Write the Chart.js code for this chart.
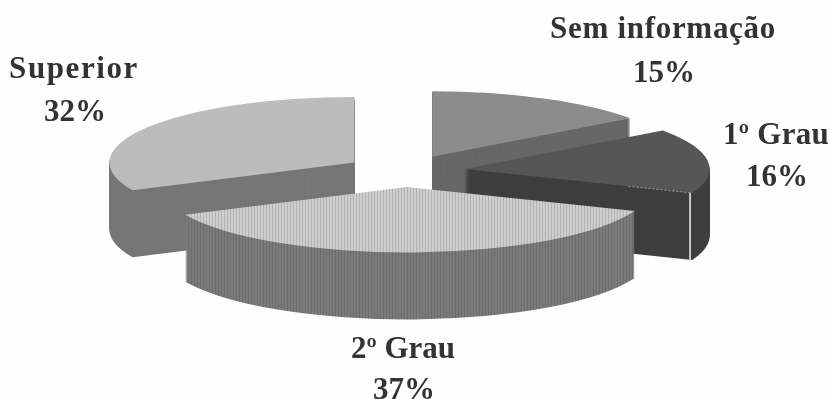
<!DOCTYPE html>
<html>
<head>
<meta charset="utf-8">
<style>
  html, body { margin: 0; padding: 0; background: #fefefe; }
  canvas { display: block; }
</style>
<script src="https://cdn.jsdelivr.net/npm/chart.js@4"></script>
</head>
<body>
<canvas id="pie" width="829" height="399"></canvas>
<script>
// Education level shares, clockwise from twelve o'clock
const categories = ['Sem informação', '1º Grau', '2º Grau', 'Superior'];
const shares = [15, 16, 37, 32];

const topColors = ['#8c8c8c', '#565656', '#c6c6c6', '#bcbcbc'];
const sideColors = ['#676767', '#3e3e3e', '#777777', '#767676'];

// Tilted-pie geometry
const RADIUS = 245;
const TILT = 0.267;
const DEPTH = 67;
const EXPLODE = 60;
// Back slices are painted first so the front ones overlap them
const paintOrder = [0, 3, 1, 2];

// Label anchors: centre, first baseline, line gap and letter tracking
const labelSpots = [
  { x: 663, y: 38, gap: 44, track: 0.7 },
  { x: 776, y: 144, gap: 42, track: 0.3 },
  { x: 403, y: 358, gap: 41, track: 0 },
  { x: 74, y: 78, gap: 43, track: 1.6 }
];

function stripes(ctx, base, line) {
  const tile = document.createElement('canvas');
  tile.width = 3;
  tile.height = 3;
  const t = tile.getContext('2d');
  t.fillStyle = base;
  t.fillRect(0, 0, 3, 3);
  t.fillStyle = line;
  t.fillRect(0, 0, 1, 3);
  return ctx.createPattern(tile, 'repeat');
}

const tiltedPie = {
  id: 'tiltedPie',
  beforeDatasetsDraw(chart) {
    const ctx = chart.ctx;
    const arcs = chart.getDatasetMeta(0).data;
    const fills = {
      top: [topColors[0], topColors[1], stripes(ctx, '#cfcfcf', '#b2b2b2'), topColors[3]],
      side: [sideColors[0], sideColors[1], stripes(ctx, '#7b7b7b', '#6c6c6c'), sideColors[3]]
    };

    const paint = (arc, fill, dx, dy) => {
      const face = Object.create(arc);
      face.options = Object.assign({}, arc.options, { backgroundColor: fill, borderWidth: 0 });
      ctx.save();
      ctx.translate(arc.x + dx, arc.y + dy);
      ctx.scale(1, TILT);
      ctx.translate(-arc.x, -arc.y);
      face.draw(ctx);
      ctx.restore();
    };

    paintOrder.forEach((i) => {
      const arc = arcs[i];
      const mid = (arc.startAngle + arc.endAngle) / 2;
      const dx = Math.cos(mid) * EXPLODE;
      const dy = Math.sin(mid) * EXPLODE * TILT;
      for (let d = DEPTH; d > 0; d--) {
        paint(arc, fills.side[i], dx, dy + d);
      }
      paint(arc, fills.top[i], dx, dy);

      // Light seam along the front edge of the dark slice
      if (i === 1) {
        const ux = Math.cos(arc.endAngle) * RADIUS;
        const uy = Math.sin(arc.endAngle) * RADIUS * TILT;
        const ox = arc.x + dx;
        const oy = arc.y + dy;
        ctx.save();
        ctx.strokeStyle = '#f2f2f2';
        ctx.lineWidth = 1.5;
        ctx.beginPath();
        ctx.moveTo(ox + ux * 0.99, oy + uy * 0.99);
        ctx.lineTo(ox + ux * 0.99, oy + uy * 0.99 + DEPTH);
        ctx.stroke();
        ctx.strokeStyle = '#9a9a9a';
        ctx.lineWidth = 1;
        ctx.setLineDash([2, 2]);
        ctx.beginPath();
        ctx.moveTo(ox + ux * 0.72, oy + uy * 0.72);
        ctx.lineTo(ox + ux * 0.99, oy + uy * 0.99);
        ctx.stroke();
        ctx.restore();
      }
    });
    return false;
  },
  afterDraw(chart) {
    const ctx = chart.ctx;
    ctx.save();
    ctx.fillStyle = '#333333';
    ctx.textAlign = 'center';
    ctx.textBaseline = 'alphabetic';
    ctx.font = 'bold 31px "Liberation Serif"';
    categories.forEach((name, i) => {
      const spot = labelSpots[i];
      ctx.letterSpacing = spot.track + 'px';
      ctx.fillText(name, spot.x, spot.y);
      ctx.letterSpacing = '0px';
      ctx.fillText(shares[i] + '%', spot.x + 1, spot.y + spot.gap);
    });
    ctx.restore();
  }
};

new Chart(document.getElementById('pie'), {
  type: 'pie',
  data: {
    labels: categories,
    datasets: [{ data: shares, radius: RADIUS, borderWidth: 0, backgroundColor: topColors }]
  },
  options: {
    responsive: false,
    animation: false,
    layout: { padding: { right: 19, bottom: 57 } },
    plugins: { legend: { display: false }, tooltip: { enabled: false } }
  },
  plugins: [tiltedPie]
});
</script>
</body>
</html>
